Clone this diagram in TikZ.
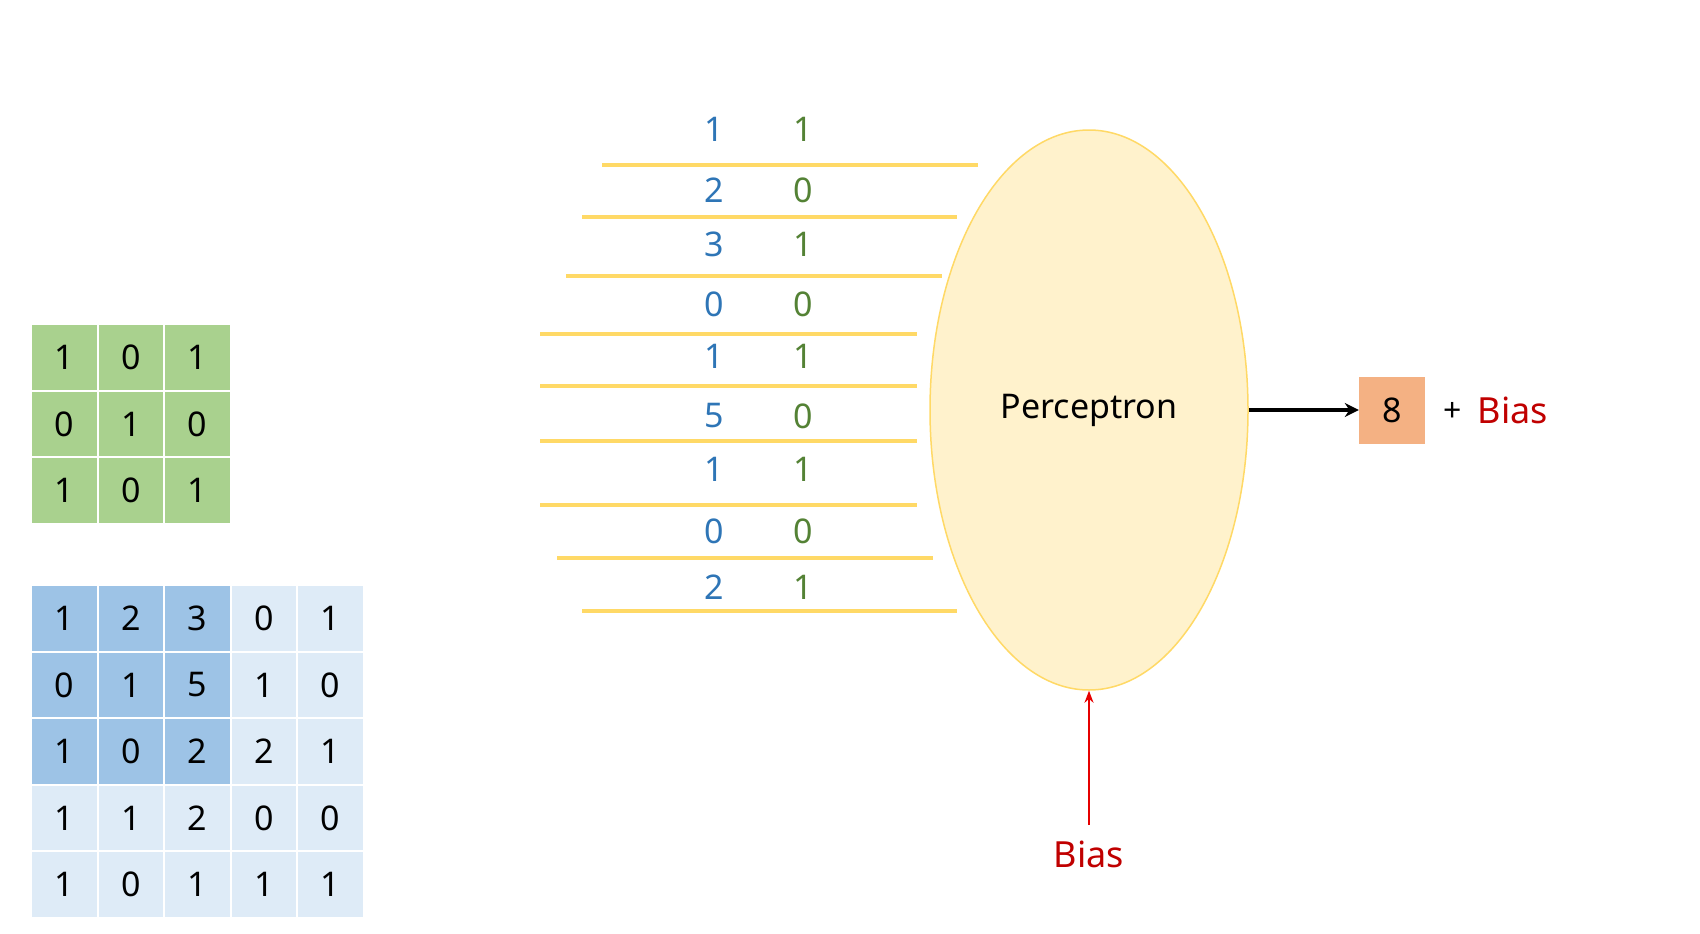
\documentclass[tikz,border=0pt]{standalone}
\usepackage{fontspec}
\setmainfont{Noto Sans}
\usetikzlibrary{shapes.geometric,arrows.meta}
\definecolor{gk}{RGB}{169,209,142}
\definecolor{bdk}{RGB}{157,195,230}
\definecolor{blt}{RGB}{222,235,247}
\definecolor{yl}{RGB}{255,217,102}
\definecolor{yf}{RGB}{255,242,204}
\definecolor{nbc}{RGB}{46,117,182}
\definecolor{ngc}{RGB}{84,130,53}
\definecolor{rd}{RGB}{192,0,0}
\definecolor{ra}{RGB}{230,0,0}
\definecolor{org}{RGB}{244,177,131}
\begin{document}
\begin{tikzpicture}[x=1pt,y=-1pt,
  cell/.style={draw=white,line width=2pt,minimum size=66.6pt,inner sep=0pt,font=\fontsize{34}{34}\selectfont},
  g/.style={cell,fill=gk,font=\fontsize{34}{34}\selectfont\bfseries},
  bd/.style={cell,fill=bdk,font=\fontsize{34}{34}\selectfont\bfseries},
  bl/.style={cell,fill=blt},
  wl/.style={draw=yl,line width=3.5pt},
  nb/.style={text=nbc,font=\fontsize{34}{34}\selectfont\bfseries},
  ng/.style={text=ngc,font=\fontsize{34}{34}\selectfont\bfseries},
  redt/.style={text=rd,font=\fontsize{36}{36}\selectfont\bfseries}]
\useasboundingbox (0,0) rectangle (1700,934);
\foreach \r/\a/\b/\c in {0/1/0/1,1/0/1/0,2/1/0/1}{
  \node[g] (k\r a) at (64.3,{357.3+66.6*\r}) {\a};
  \node[g] (k\r b) at (130.9,{357.3+66.6*\r}) {\b};
  \node[g] (k\r c) at (197.5,{357.3+66.6*\r}) {\c};}
\foreach \r/\a/\b/\c/\d/\e/\s in {0/1/2/3/0/1/bd,1/0/1/5/1/0/bd,2/1/0/2/2/1/bd,3/1/1/2/0/0/bl,4/1/0/1/1/1/bl}{
  \node[\s] (m\r a) at (64.3,{618.3+66.6*\r}) {\a};
  \node[\s] (m\r b) at (130.9,{618.3+66.6*\r}) {\b};
  \node[\s] (m\r c) at (197.5,{618.3+66.6*\r}) {\c};
  \node[bl] (m\r d) at (264.1,{618.3+66.6*\r}) {\d};
  \node[bl] (m\r e) at (330.7,{618.3+66.6*\r}) {\e};}
\foreach \y/\xa/\xb in {165/602/978,217/582/957,276/566/942,334/540/917,386/540/917,441/540/917,505/540/917,558/557/933,611/582/957}
  \draw[wl] (\xa,\y) -- (\xb,\y);
\foreach \i/\y/\a/\b in {1/129/1/1,2/190/2/0,3/244/3/1,4/304/0/0,5/356/1/1,6/416/5/0,7/469/1/1,8/531/0/0,9/587/2/1}{
  \node[nb] (x\i) at (714,\y) {\a};
  \node[ng] (w\i) at (803,\y) {\b};}
\node[ellipse,draw=yl,line width=1.5pt,fill=yf,minimum width=318pt,minimum height=560pt,inner sep=0pt,font=\fontsize{34}{34}\selectfont\bfseries] (p) at (1089,410) {Perceptron};
\node[fill=org,minimum width=66pt,minimum height=67pt,inner sep=0pt,font=\fontsize{34}{34}\selectfont\bfseries] (o) at (1392,410) {8};
\node[font=\fontsize{32}{32}\selectfont\bfseries] (plus) at (1453,412) {+};
\node[redt] (b1) at (1513,410) {Bias};
\draw[line width=3.5pt,-{Stealth[length=14pt,width=14pt]}] (p.east) -- (o.west);
\node[redt] (b2) at (1089,854) {Bias};
\coordinate (bt) at (1089,825);
\draw[line width=2.5pt,draw=ra,-{Stealth[length=12pt,width=9pt]}] (bt) -- (p.south);
\end{tikzpicture}
\end{document}
